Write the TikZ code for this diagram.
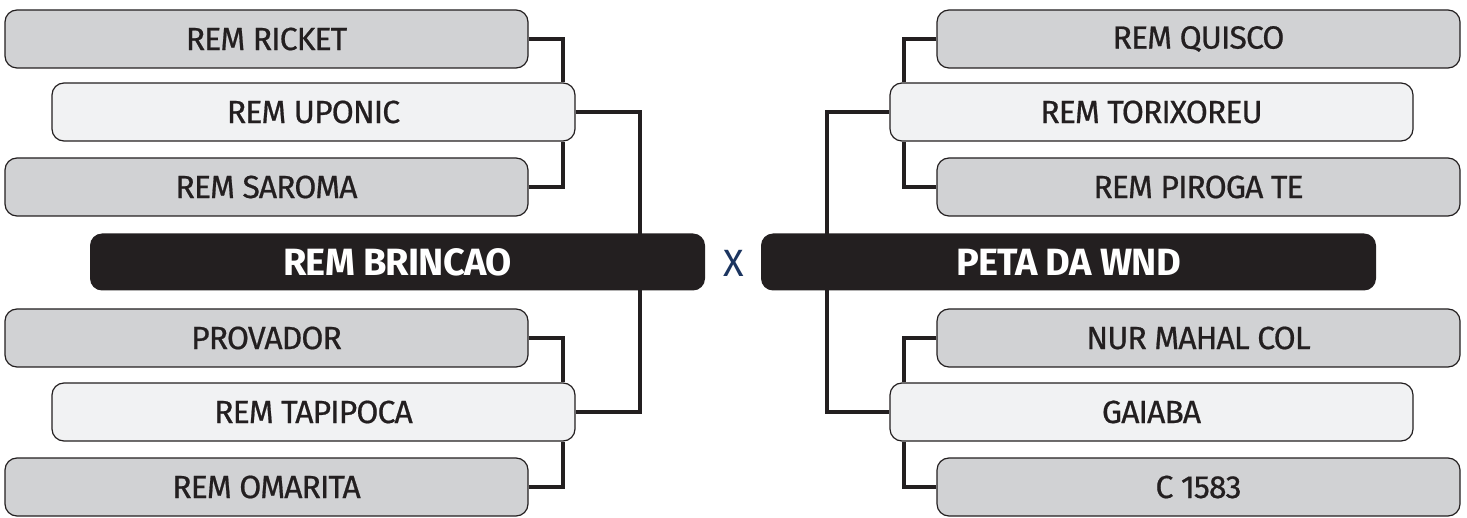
\documentclass[tikz,border=0pt]{standalone}
\usepackage{fontspec}
\setmainfont{Fira Sans}
\newfontfamily\seedfont{Fira Sans}[FakeBold=0.6,LetterSpace=-3]
\newfontfamily\finalfont{Fira Sans}[BoldFont={* Bold},LetterSpace=-2]
\usetikzlibrary{backgrounds}

\definecolor{ink}{HTML}{231F20}
\definecolor{darkgray}{HTML}{D1D2D4}
\definecolor{lightgray}{HTML}{F1F2F3}
\definecolor{navy}{HTML}{1C3560}

\begin{document}
\begin{tikzpicture}[x=1pt,y=-1pt,
                    auto,
                    line width=1.2pt,
                    seed node/.style={rectangle,rounded corners=12pt,draw=ink,fill=darkgray,
                                      minimum width=523pt,minimum height=58pt,inner sep=0pt,
                                      text=ink,font=\seedfont\fontsize{32}{36}\selectfont},
                    pick node/.style={seed node,fill=lightgray},
                    final node/.style={rectangle,rounded corners=12pt,fill=ink,
                                       minimum width=615pt,minimum height=57pt,inner sep=0pt,
                                       text=white,font=\finalfont\fontsize{38}{42}\selectfont\bfseries},
                    bracket/.style={draw=ink,line width=4pt},
                    elbow/.style={to path={-| (\tikztotarget)}}]

  \useasboundingbox (0,0) rectangle (1467,518);

  % left half
  \node[seed node] (ricket)   at (266.5,39)  {REM RICKET};
  \node[pick node] (uponic)   at (313.5,112) {REM UPONIC};
  \node[seed node] (saroma)   at (266.5,187) {REM SAROMA};
  \node[final node] (brincao) at (397.5,262) {REM BRINCAO};
  \node[seed node] (provador) at (266.5,338) {PROVADOR};
  \node[pick node] (tapipoca) at (313.5,412) {REM TAPIPOCA};
  \node[seed node] (omarita)  at (266.5,487) {REM OMARITA};

  % right half
  \node[seed node] (quisco)    at (1198.5,39)  {REM QUISCO};
  \node[pick node] (torixoreu) at (1151.5,112) {REM TORIXOREU};
  \node[seed node] (piroga)    at (1198.5,187) {REM PIROGA TE};
  \node[final node] (peta)     at (1068.5,262) {PETA DA WND};
  \node[seed node] (nurmahal)  at (1198.5,338) {NUR MAHAL COL};
  \node[pick node] (gaiaba)    at (1151.5,412) {GAIABA};
  \node[seed node] (c1583)     at (1198.5,487) {C 1583};

  \node[text=navy,font=\fontsize{38}{42}\selectfont] (versus) at (733.5,263) {X};

  \coordinate (lt) at (563,0);
  \coordinate (lm) at (640,262);
  \coordinate (rt) at (904,0);
  \coordinate (rm) at (827,262);

  \begin{scope}[on background layer]
    \path[bracket]
      (ricket.east)   edge[elbow] (uponic.north -| lt)
      (saroma.east)   edge[elbow] (uponic.south -| lt)
      (provador.east) edge[elbow] (tapipoca.north -| lt)
      (omarita.east)  edge[elbow] (tapipoca.south -| lt)
      (quisco.west)   edge[elbow] (torixoreu.north -| rt)
      (piroga.west)   edge[elbow] (torixoreu.south -| rt)
      (nurmahal.west) edge[elbow] (gaiaba.north -| rt)
      (c1583.west)    edge[elbow] (gaiaba.south -| rt);
    \draw[bracket] (uponic.east) -| (lm) |- (tapipoca.east);
    \draw[bracket] (torixoreu.west) -| (rm) |- (gaiaba.west);
  \end{scope}
\end{tikzpicture}
\end{document}
